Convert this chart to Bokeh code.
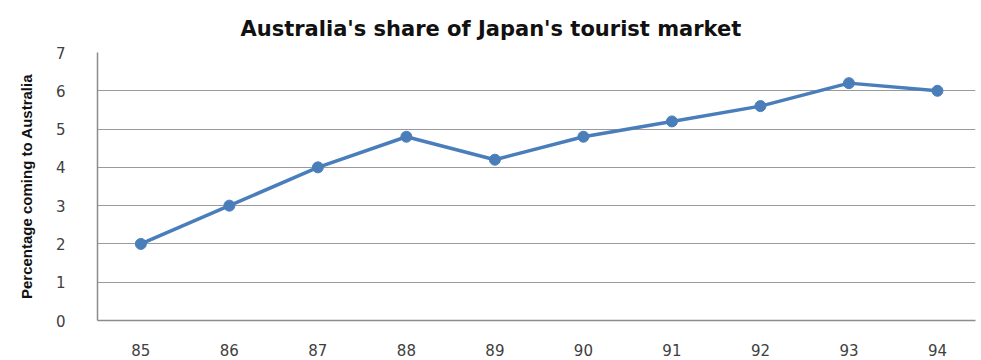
from bokeh.plotting import figure
from bokeh.models import Range1d, FixedTicker
from bokeh.embed import file_html
from bokeh.resources import INLINE

years = [85, 86, 87, 88, 89, 90, 91, 92, 93, 94]
share = [2.0, 3.0, 4.0, 4.8, 4.2, 4.8, 5.2, 5.6, 6.2, 6.0]
y_ticks = [0, 1, 2, 3, 4, 5, 6, 7]

p = figure(width=978, height=358, output_backend="svg", toolbar_location=None,
           x_range=Range1d(84.51, 94.43), y_range=Range1d(0, 7),
           min_border_left=97, min_border_right=3, min_border_top=52, min_border_bottom=35)

p.title.text = "Australia's share of Japan's tourist market"
p.title.align = "left"
p.title.text_font = "DejaVu Sans"
p.title.text_font_size = "21px"
p.title.text_font_style = "bold"
p.title.text_color = "#111111"
p.title.offset = 143
p.title.standoff = 24

p.line(years, share, line_color="#4a7ebb", line_width=3.5)
p.scatter(years, share, size=11, fill_color="#4a7ebb", line_color="#4a7ebb")

p.xaxis.ticker = FixedTicker(ticks=years)
p.yaxis.ticker = FixedTicker(ticks=y_ticks)
p.xgrid.grid_line_color = None
p.ygrid.grid_line_color = "#9a9a9a"
p.ygrid.grid_line_width = 1
p.outline_line_color = None

for ax in (p.xaxis, p.yaxis):
    ax.major_tick_line_color = None
    ax.minor_tick_line_color = None
    ax.axis_line_color = "#8c8c8c"
    ax.axis_line_width = 1.5
    ax.major_label_text_font = "DejaVu Sans"
    ax.major_label_text_font_size = "15px"
    ax.major_label_text_color = "#404040"

p.xaxis.major_label_standoff = 17
p.yaxis.major_label_standoff = 26

p.yaxis.axis_label = "Percentage coming to Australia"
p.yaxis.axis_label_text_font = "Liberation Sans"
p.yaxis.axis_label_text_font_size = "15px"
p.yaxis.axis_label_text_font_style = "bold"
p.yaxis.axis_label_text_color = "#111111"
p.yaxis.axis_label_standoff = 18

open("out.html", "w").write(file_html(p, INLINE))
